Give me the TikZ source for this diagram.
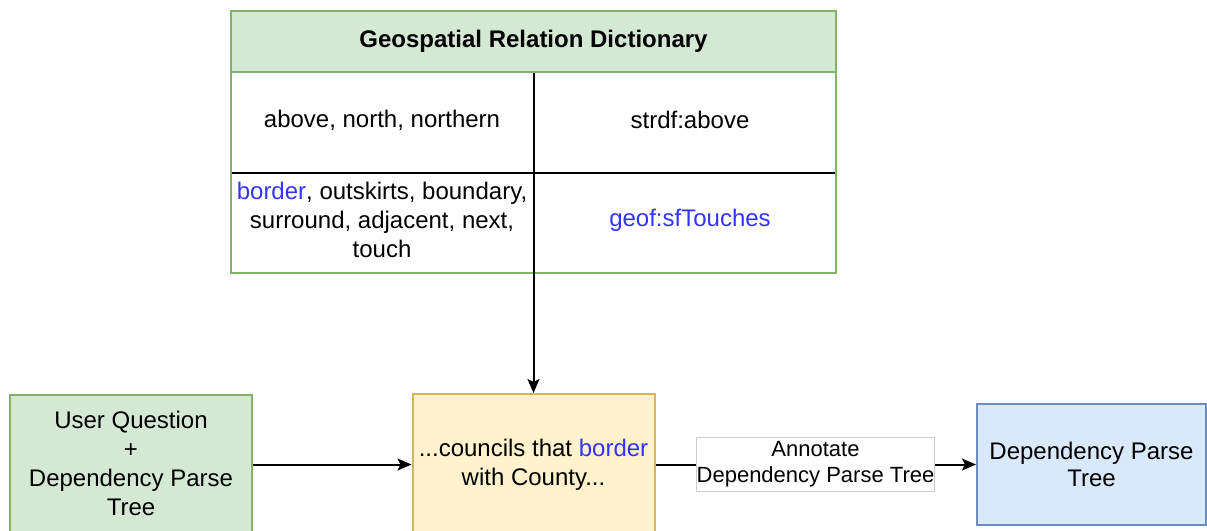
\documentclass[tikz,border=0pt]{standalone}
\usepackage{fontspec}
\setmainfont{Liberation Sans}
\usetikzlibrary{arrows.meta}
\definecolor{gfill}{HTML}{D5E8D4}
\definecolor{gline}{HTML}{82B366}
\definecolor{yfill}{HTML}{FFF2CC}
\definecolor{yline}{HTML}{D6B656}
\definecolor{bfill}{HTML}{DAE8FC}
\definecolor{bline}{HTML}{6C8EBF}
\definecolor{relblue}{HTML}{3333FF}
\begin{document}
\begin{tikzpicture}[x=0.5pt, y=-0.5pt,
    box/.style={draw, line width=1pt, minimum width=121pt, align=center, inner sep=0pt, font=\fontsize{12}{14.5}\selectfont},
    cell/.style={minimum width=140pt, minimum height=50pt, align=center, inner sep=0pt, font=\fontsize{12}{14.5}\selectfont},
    arr/.style={-{Stealth[length=7pt,width=6pt,inset=1.5pt]}, line width=1pt}]
    \useasboundingbox (0,0) rectangle (1207,531);
    % dictionary table
    \node[draw=gline, fill=gfill, line width=1pt, minimum width=302.5pt, minimum height=30.5pt, inner sep=0pt, font=\bfseries\fontsize{12}{14}\selectfont] (head) at (533.5,41.5) {Geospatial Relation Dictionary};
    \node[cell] (c11) at (382,120) {above, north, northern};
    \node[cell] (c12) at (690,120) {strdf:above};
    \node[cell] (c21) at (382,220) {\textcolor{relblue}{border}, outskirts, boundary,\\surround, adjacent, next,\\touch};
    \node[cell] (c22) at (690,220) {\textcolor{relblue}{geof:sfTouches}};
    \draw[line width=1pt] (231,173) -- (836,173); \draw[line width=1pt] (533.5,72) -- (533.5,273);
    \draw[gline, line width=1pt] (231,72) rectangle (836,273);
    % pipeline boxes
    \node[box, draw=gline, fill=gfill, minimum height=69pt] (question) at (131,463.5) {User Question\\+\\Dependency Parse\\Tree};
    \node[box, draw=yline, fill=yfill, minimum height=70.5pt] (council) at (533.5,464.5) {...councils that \textcolor{relblue}{border}\\with County...};
    \node[box, draw=bline, fill=bfill, minimum width=114.5pt, minimum height=60.5pt] (tree) at (1091.5,464.5) {Dependency Parse\\[-1pt]Tree};
    \node[draw=black!20, fill=white, line width=0.5pt, minimum width=118.5pt, minimum height=27pt, inner sep=0pt, align=center, font=\fontsize{11}{13}\selectfont] (annot) at (815.5,464.5) {Annotate\\Dependency Parse Tree};
    \draw[arr] (council.north |- c21.south) -- (council.north);
    \draw[arr] (question.east |- council) -- (council);
    \draw[line width=1pt] (council.east) -- (annot.west);
    \draw[arr] (annot.east) -- (tree.west);
\end{tikzpicture}
\end{document}
